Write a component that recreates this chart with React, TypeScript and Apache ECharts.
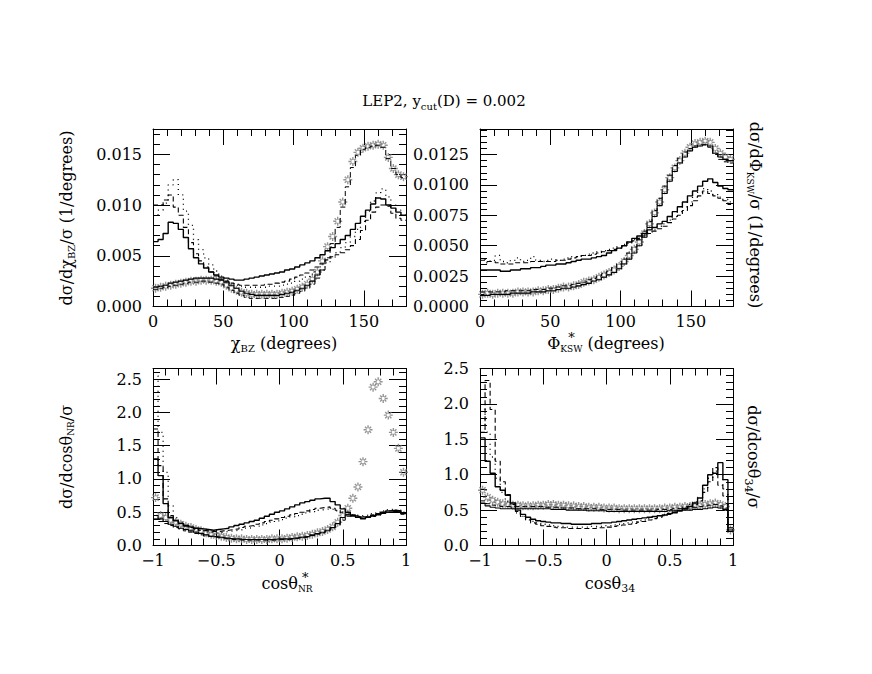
import React, { useEffect, useRef } from 'react';
import * as echarts from 'echarts';

// ---------- data (50 bins per panel) ----------
const N_BINS = 50;
const DEG_RANGE = [0, 180];
const COS_RANGE = [-1, 1];

// Top-left: chi_BZ
const TL_A = [0.0064, 0.0066, 0.0072, 0.0083, 0.0082, 0.0076, 0.0068, 0.0057, 0.0048, 0.0042,
  0.0038, 0.0034, 0.0031, 0.0029, 0.0028, 0.0027, 0.0026, 0.0026, 0.0027, 0.0028,
  0.0029, 0.0030, 0.0031, 0.0032, 0.0033, 0.0034, 0.0036, 0.0037, 0.0039, 0.0041,
  0.0043, 0.0045, 0.0048, 0.0051, 0.0055, 0.0058, 0.0062, 0.0066, 0.0070, 0.0076,
  0.0082, 0.0089, 0.0095, 0.0101, 0.0107, 0.0106, 0.0100, 0.0097, 0.0093, 0.0090];
const TL_B = [0.0100, 0.0100, 0.0105, 0.0110, 0.0098, 0.0090, 0.0078, 0.0063, 0.0052, 0.0045,
  0.0039, 0.0034, 0.0030, 0.0027, 0.0025, 0.0023, 0.0022, 0.0021, 0.0021, 0.0021,
  0.0021, 0.0021, 0.0022, 0.0022, 0.0023, 0.0024, 0.0025, 0.0027, 0.0029, 0.0031,
  0.0033, 0.0036, 0.0039, 0.0042, 0.0046, 0.0049, 0.0051, 0.0053, 0.0056, 0.0060,
  0.0066, 0.0075, 0.0085, 0.0093, 0.0098, 0.0100, 0.0099, 0.0092, 0.0087, 0.0085];
const TL_C = [0.0090, 0.0095, 0.0102, 0.0120, 0.0125, 0.0110, 0.0094, 0.0080, 0.0066, 0.0056,
  0.0048, 0.0041, 0.0035, 0.0030, 0.0026, 0.0023, 0.0021, 0.0020, 0.0019, 0.0019,
  0.0019, 0.0019, 0.0019, 0.0020, 0.0020, 0.0021, 0.0022, 0.0023, 0.0025, 0.0027,
  0.0029, 0.0032, 0.0035, 0.0039, 0.0043, 0.0048, 0.0053, 0.0058, 0.0063, 0.0069,
  0.0076, 0.0084, 0.0094, 0.0104, 0.0112, 0.0116, 0.0108, 0.0100, 0.0095, 0.0090];
const TL_D = [0.0019, 0.0020, 0.0021, 0.0023, 0.0024, 0.0025, 0.0026, 0.0027, 0.0028, 0.0028,
  0.0028, 0.0028, 0.0027, 0.0026, 0.0024, 0.0021, 0.0018, 0.0015, 0.0013, 0.0012,
  0.0011, 0.0011, 0.0011, 0.0011, 0.0011, 0.0012, 0.0013, 0.0014, 0.0016, 0.0018,
  0.0021, 0.0025, 0.0031, 0.0036];
const TL_E = [0.0017, 0.0018, 0.0019, 0.0020, 0.0021, 0.0022, 0.0023, 0.0024, 0.0024, 0.0025,
  0.0025, 0.0024, 0.0023, 0.0022, 0.0019, 0.0016, 0.0013, 0.0011, 0.0009, 0.0008,
  0.0008, 0.0008, 0.0008, 0.0008, 0.0008, 0.0009, 0.0010, 0.0011, 0.0013, 0.0015,
  0.0018, 0.0022, 0.0028, 0.0036, 0.0048, 0.0062, 0.0078, 0.0098, 0.0118, 0.0137,
  0.0149, 0.0155, 0.0157, 0.0158, 0.0159, 0.0157, 0.0146, 0.0136, 0.0130, 0.0127];
const TL_F = [0.0018, 0.0019, 0.0020, 0.0021, 0.0022, 0.0023, 0.0024, 0.0025, 0.0025, 0.0026,
  0.0026, 0.0026, 0.0025, 0.0024, 0.0021, 0.0018, 0.0016, 0.0014, 0.0013, 0.0012,
  0.0012, 0.0012, 0.0012, 0.0012, 0.0012, 0.0013, 0.0014, 0.0015, 0.0017, 0.0019,
  0.0022, 0.0027, 0.0034, 0.0045, 0.0059, 0.0069, 0.0084, 0.0103, 0.0125, 0.0143,
  0.0152, 0.0156, 0.0158, 0.0159, 0.0160, 0.0159, 0.0147, 0.0136, 0.0130, 0.0128];

// Top-right: Phi*_KSW
const TR_A = [0.0030, 0.0030, 0.0030, 0.0030, 0.0029, 0.0029, 0.0030, 0.0030, 0.0031, 0.0031,
  0.0032, 0.0032, 0.0033, 0.0034, 0.0034, 0.0035, 0.0035, 0.0036, 0.0037, 0.0038,
  0.0039, 0.0039, 0.0040, 0.0041, 0.0042, 0.0044, 0.0046, 0.0048, 0.0050, 0.0053,
  0.0056, 0.0058, 0.0060, 0.0063, 0.0065, 0.0068, 0.0070, 0.0074, 0.0078, 0.0082,
  0.0086, 0.0091, 0.0095, 0.0099, 0.0103, 0.0105, 0.0102, 0.0099, 0.0097, 0.0096];
const TR_B = [0.0038, 0.0037, 0.0037, 0.0036, 0.0035, 0.0035, 0.0035, 0.0036, 0.0036, 0.0036,
  0.0037, 0.0037, 0.0037, 0.0037, 0.0037, 0.0038, 0.0038, 0.0039, 0.0040, 0.0041,
  0.0042, 0.0042, 0.0043, 0.0044, 0.0045, 0.0046, 0.0047, 0.0048, 0.0050, 0.0052,
  0.0054, 0.0056, 0.0058, 0.0060, 0.0062, 0.0064, 0.0066, 0.0069, 0.0072, 0.0075,
  0.0079, 0.0083, 0.0087, 0.0091, 0.0095, 0.0093, 0.0091, 0.0089, 0.0087, 0.0084];
const TR_C = [0.0039, 0.0036, 0.0038, 0.0042, 0.0037, 0.0036, 0.0038, 0.0040, 0.0037, 0.0038,
  0.0041, 0.0038, 0.0037, 0.0038, 0.0039, 0.0038, 0.0039, 0.0040, 0.0041, 0.0041,
  0.0042, 0.0043, 0.0044, 0.0045, 0.0046, 0.0047, 0.0048, 0.0049, 0.0051, 0.0053,
  0.0055, 0.0057, 0.0059, 0.0061, 0.0063, 0.0066, 0.0068, 0.0071, 0.0074, 0.0078,
  0.0082, 0.0086, 0.0090, 0.0094, 0.0097, 0.0095, 0.0092, 0.0090, 0.0088, 0.0086];
const TR_D = [0.0009, 0.0009, 0.0010, 0.0010, 0.0010, 0.0010, 0.0011, 0.0011, 0.0011, 0.0011,
  0.0012, 0.0012, 0.0012, 0.0013, 0.0013, 0.0014, 0.0015, 0.0015, 0.0016, 0.0017,
  0.0018, 0.0019, 0.0021, 0.0022, 0.0024, 0.0026, 0.0028, 0.0031, 0.0035, 0.0039,
  0.0044, 0.0050, 0.0057, 0.0065, 0.0074, 0.0083, 0.0093, 0.0103, 0.0111, 0.0118,
  0.0123, 0.0128, 0.0131, 0.0132, 0.0133, 0.0132, 0.0126, 0.0123, 0.0121, 0.0120];
const TR_E = [0.0012, 0.0012, 0.0012, 0.0012, 0.0012, 0.0013, 0.0013, 0.0013, 0.0013, 0.0013,
  0.0014, 0.0014, 0.0014, 0.0015, 0.0015, 0.0016, 0.0017, 0.0017, 0.0018, 0.0019,
  0.0020, 0.0022, 0.0023, 0.0025, 0.0027, 0.0029, 0.0032, 0.0035, 0.0039, 0.0044,
  0.0049, 0.0055, 0.0062, 0.0070, 0.0079, 0.0089, 0.0099, 0.0108, 0.0116, 0.0122,
  0.0127, 0.0130, 0.0132, 0.0133, 0.0133, 0.0131, 0.0125, 0.0121, 0.0119, 0.0118];
const TR_F = [0.0010, 0.0011, 0.0010, 0.0011, 0.0011, 0.0011, 0.0011, 0.0012, 0.0012, 0.0012,
  0.0012, 0.0013, 0.0013, 0.0014, 0.0014, 0.0015, 0.0016, 0.0016, 0.0017, 0.0018,
  0.0020, 0.0021, 0.0022, 0.0024, 0.0026, 0.0028, 0.0030, 0.0033, 0.0037, 0.0042,
  0.0047, 0.0053, 0.0060, 0.0068, 0.0077, 0.0086, 0.0096, 0.0106, 0.0114, 0.0120,
  0.0126, 0.0131, 0.0134, 0.0135, 0.0136, 0.0135, 0.0130, 0.0126, 0.0123, 0.0121];

// Bottom-left: cos theta*_NR
const BL_A = [1.30, 1.05, 0.63, 0.42, 0.37, 0.33, 0.30, 0.28, 0.26, 0.25,
  0.24, 0.23, 0.24, 0.25, 0.26, 0.28, 0.30, 0.32, 0.34, 0.36,
  0.38, 0.41, 0.44, 0.47, 0.50, 0.52, 0.55, 0.58, 0.61, 0.64,
  0.66, 0.68, 0.70, 0.71, 0.71, 0.66, 0.61, 0.55, 0.50, 0.46,
  0.43, 0.41, 0.43, 0.45, 0.47, 0.50, 0.52, 0.53, 0.52, 0.48];
const BL_B = [1.75, 1.20, 0.70, 0.45, 0.38, 0.33, 0.29, 0.27, 0.25, 0.23,
  0.22, 0.21, 0.21, 0.22, 0.23, 0.24, 0.25, 0.27, 0.29, 0.30,
  0.32, 0.34, 0.36, 0.38, 0.40, 0.42, 0.44, 0.46, 0.48, 0.50,
  0.52, 0.54, 0.56, 0.57, 0.58, 0.56, 0.53, 0.50, 0.47, 0.45,
  0.43, 0.42, 0.43, 0.44, 0.46, 0.48, 0.50, 0.51, 0.50, 0.47];
const BL_C = [2.55, 1.70, 1.10, 0.60, 0.42, 0.35, 0.30, 0.27, 0.24, 0.22,
  0.20, 0.19, 0.19, 0.20, 0.21, 0.22, 0.23, 0.24, 0.26, 0.27,
  0.29, 0.31, 0.33, 0.35, 0.37, 0.39, 0.41, 0.43, 0.45, 0.47,
  0.49, 0.51, 0.53, 0.54, 0.55, 0.54, 0.52, 0.50, 0.48, 0.46,
  0.45, 0.45, 0.46, 0.48, 0.50, 0.52, 0.54, 0.55, 0.53, 0.50];
const BL_D = [0.45, 0.40, 0.36, 0.32, 0.29, 0.26, 0.24, 0.22, 0.20, 0.18,
  0.16, 0.14, 0.13, 0.12, 0.11, 0.10, 0.10, 0.09, 0.09, 0.09,
  0.09, 0.09, 0.09, 0.09, 0.10, 0.10, 0.10, 0.11, 0.12, 0.13,
  0.14, 0.16, 0.18, 0.20, 0.23, 0.27, 0.33, 0.42, 0.46, 0.44,
  0.42, 0.40, 0.42, 0.44, 0.46, 0.48, 0.50, 0.51, 0.50, 0.48];
const BL_E = [0.40, 0.36, 0.33, 0.30, 0.27, 0.25, 0.22, 0.20, 0.18, 0.16,
  0.14, 0.13, 0.12, 0.11, 0.10, 0.09, 0.09, 0.08, 0.08, 0.08,
  0.08, 0.08, 0.08, 0.08, 0.09, 0.09, 0.09, 0.10, 0.11, 0.12,
  0.13, 0.15, 0.17, 0.19, 0.22, 0.26, 0.31, 0.38, 0.44, 0.45,
  0.44, 0.43, 0.44, 0.46, 0.48, 0.50, 0.52, 0.52, 0.51, 0.49];
const BL_F = [0.72, 0.45, 0.42, 0.38, 0.35, 0.32, 0.29, 0.27, 0.24, 0.22,
  0.19, 0.17, 0.15, 0.14, 0.12, 0.11, 0.10, 0.10, 0.09, 0.09,
  0.09, 0.09, 0.09, 0.10, 0.10, 0.10, 0.11, 0.12, 0.13, 0.14,
  0.15, 0.17, 0.19, 0.21, 0.24, 0.28, 0.35, 0.45, 0.56, 0.71,
  0.88, 1.26, 1.74, 2.38, 2.46, 2.21, 1.96, 1.70, 1.46, 1.10];

// Bottom-right: cos theta_34
const BR_A = [1.52, 1.19, 1.02, 0.83, 0.78, 0.71, 0.60, 0.50, 0.44, 0.40,
  0.37, 0.35, 0.34, 0.33, 0.32, 0.32, 0.31, 0.31, 0.30, 0.30,
  0.30, 0.30, 0.31, 0.31, 0.32, 0.32, 0.33, 0.34, 0.35, 0.36,
  0.37, 0.38, 0.39, 0.40, 0.41, 0.42, 0.43, 0.45, 0.47, 0.49,
  0.52, 0.55, 0.60, 0.67, 0.85, 1.00, 1.02, 1.17, 0.93, 0.20];
const BR_B = [1.60, 2.33, 1.92, 1.19, 0.90, 0.72, 0.58, 0.48, 0.41, 0.36,
  0.32, 0.30, 0.28, 0.27, 0.26, 0.25, 0.25, 0.24, 0.24, 0.24,
  0.24, 0.24, 0.24, 0.25, 0.25, 0.26, 0.27, 0.28, 0.29, 0.30,
  0.31, 0.33, 0.34, 0.36, 0.38, 0.40, 0.42, 0.44, 0.46, 0.49,
  0.52, 0.55, 0.58, 0.63, 0.75, 0.90, 1.10, 0.85, 0.70, 0.20];
const BR_C = [2.00, 1.60, 1.25, 0.95, 0.75, 0.62, 0.53, 0.46, 0.41, 0.37,
  0.34, 0.32, 0.30, 0.29, 0.28, 0.27, 0.27, 0.26, 0.26, 0.26,
  0.26, 0.26, 0.27, 0.27, 0.28, 0.28, 0.29, 0.30, 0.31, 0.32,
  0.33, 0.35, 0.36, 0.38, 0.40, 0.42, 0.44, 0.46, 0.49, 0.52,
  0.55, 0.58, 0.62, 0.68, 0.80, 0.95, 1.05, 1.00, 0.80, 0.22];
const BR_D = [0.60, 0.56, 0.54, 0.53, 0.52, 0.52, 0.52, 0.52, 0.52, 0.52,
  0.52, 0.52, 0.52, 0.52, 0.51, 0.51, 0.51, 0.50, 0.50, 0.50,
  0.50, 0.49, 0.49, 0.49, 0.49, 0.48, 0.48, 0.48, 0.48, 0.48,
  0.48, 0.48, 0.48, 0.48, 0.48, 0.48, 0.48, 0.49, 0.49, 0.49,
  0.50, 0.50, 0.51, 0.51, 0.52, 0.53, 0.54, 0.53, 0.51, 0.25];
const BR_E = [0.63, 0.59, 0.57, 0.56, 0.55, 0.55, 0.55, 0.55, 0.55, 0.55,
  0.55, 0.55, 0.55, 0.54, 0.54, 0.54, 0.53, 0.53, 0.53, 0.52,
  0.52, 0.52, 0.52, 0.51, 0.51, 0.51, 0.51, 0.51, 0.50, 0.50,
  0.50, 0.50, 0.50, 0.50, 0.50, 0.51, 0.51, 0.51, 0.52, 0.52,
  0.53, 0.53, 0.54, 0.55, 0.56, 0.57, 0.58, 0.56, 0.53, 0.22];
const BR_F = [0.78, 0.68, 0.64, 0.61, 0.59, 0.58, 0.57, 0.57, 0.56, 0.56,
  0.56, 0.57, 0.57, 0.58, 0.58, 0.57, 0.57, 0.56, 0.56, 0.55,
  0.55, 0.54, 0.54, 0.54, 0.53, 0.53, 0.53, 0.52, 0.52, 0.52,
  0.52, 0.52, 0.52, 0.52, 0.52, 0.52, 0.53, 0.53, 0.54, 0.54,
  0.55, 0.55, 0.56, 0.57, 0.58, 0.59, 0.60, 0.58, 0.55, 0.22];

// axis ranges / ticks
const Y_TL = { max: 0.0175, interval: 0.005, dec: 3 };
const Y_TR = { max: 0.0146, interval: 0.0025, dec: 4 };
const Y_BL = { max: 2.66, interval: 0.5, dec: 1 };
const Y_BR = { max: 2.5, interval: 0.5, dec: 1 };

const FAMILY = '"DejaVu Serif", serif';
const STAR = 'path://M5 0L5 3.4M5 6.6L5 10M0 5L3.4 5M6.6 5L10 5M1.6 1.6L3.7 3.7M6.3 6.3L8.4 8.4M1.6 8.4L3.7 6.3M6.3 3.7L8.4 1.6';

function stepData(vals: number[], lo: number, hi: number) {
  const w = (hi - lo) / N_BINS;
  const d: number[][] = vals.map((v, i) => [lo + i * w, v]);
  d.push([lo + vals.length * w, vals[vals.length - 1]]);
  return d;
}
function centerData(vals: number[], lo: number, hi: number) {
  const w = (hi - lo) / N_BINS;
  return vals.map((v, i) => [lo + (i + 0.5) * w, v]);
}

let measureCtx: CanvasRenderingContext2D | null = null;
function tw(t: string, size: number) {
  if (!measureCtx) measureCtx = document.createElement('canvas').getContext('2d');
  measureCtx!.font = `${size}px ${FAMILY}`;
  return measureCtx!.measureText(t).width;
}
type Seg = { t: string; s: number; dy: number; over?: boolean };
function label(segs: Seg[], cx: number, cy: number, rot: number) {
  let total = 0;
  segs.forEach((sg) => { if (!sg.over) total += tw(sg.t, sg.s); });
  let x = -total / 2;
  const children: any[] = [];
  segs.forEach((sg, i) => {
    const w = tw(sg.t, sg.s);
    let px = x;
    if (sg.over) {
      const nx = segs[i + 1];
      const nw = nx ? tw(nx.t, nx.s) : w;
      px = x + (nw - w) / 2;
    }
    children.push({
      type: 'text', x: px, y: sg.dy,
      style: {
        text: sg.t, fontSize: sg.s, fontFamily: FAMILY, fill: '#000',
        align: 'left', verticalAlign: 'middle', textAlign: 'left', textVerticalAlign: 'middle',
      },
    });
    if (!sg.over) x += w;
  });
  return { type: 'group', x: cx, y: cy, rotation: rot, children };
}

const M = 16, S = 11;

export default function App() {
  const ref = useRef<HTMLDivElement>(null);
  useEffect(() => {
    document.body.style.margin = '0';
    const chart = echarts.init(ref.current!, null, { renderer: 'svg' });

    const grids = [
      { left: 153, top: 129, width: 253, height: 177.5 },
      { left: 480, top: 129, width: 253, height: 177.5 },
      { left: 153, top: 368.5, width: 253, height: 177 },
      { left: 480, top: 368.5, width: 253, height: 177 },
    ];
    const degFmt = (v: number) => String(Math.round(v));
    const cosFmt = (v: number) => (v < 0 ? '\u2212' + String(Math.abs(v)) : String(v));
    const panelX = [
      { r: DEG_RANGE, interval: 50, fmt: degFmt, showMax: false },
      { r: DEG_RANGE, interval: 50, fmt: degFmt, showMax: false },
      { r: COS_RANGE, interval: 0.5, fmt: cosFmt, showMax: true },
      { r: COS_RANGE, interval: 0.5, fmt: cosFmt, showMax: true },
    ];
    const panelY = [Y_TL, Y_TR, Y_BL, Y_BR];

    const lineCommon = {
      axisLine: { show: true, onZero: false, lineStyle: { color: '#000', width: 1 } },
      axisTick: { show: true, inside: true, length: 16, lineStyle: { color: '#000', width: 1 } },
      minorTick: { show: true, splitNumber: 5, length: 7, lineStyle: { color: '#000', width: 1 } },
      splitLine: { show: false },
      minorSplitLine: { show: false },
    };
    const xAxis: any[] = [];
    const yAxis: any[] = [];
    panelX.forEach((p, gi) => {
      const base = { type: 'value', gridIndex: gi, min: p.r[0], max: p.r[1], interval: p.interval, ...lineCommon };
      xAxis.push({
        ...base, position: 'bottom',
        axisLabel: { show: true, margin: 7, fontFamily: FAMILY, fontSize: 16, color: '#000', formatter: p.fmt, showMaxLabel: p.showMax, showMinLabel: true },
      });
      xAxis.push({ ...base, position: 'top', axisLabel: { show: false } });
    });
    panelY.forEach((p, gi) => {
      const base = { type: 'value', gridIndex: gi, min: 0, max: p.max, interval: p.interval, ...lineCommon, axisTick: { ...lineCommon.axisTick, length: 17 } };
      yAxis.push({
        ...base, position: 'left',
        axisLabel: {
          show: true, margin: 11, fontFamily: FAMILY, fontSize: 16, color: '#000',
          formatter: (v: number) => v.toFixed(p.dec),
          showMaxLabel: Math.abs(p.max / p.interval - Math.round(p.max / p.interval)) < 1e-6,
          showMinLabel: true,
        },
      });
      yAxis.push({ ...base, position: 'right', axisLabel: { show: false } });
    });

    const sets = [
      [TL_A, TL_B, TL_C, TL_D, TL_E, TL_F],
      [TR_A, TR_B, TR_C, TR_D, TR_E, TR_F],
      [BL_A, BL_B, BL_C, BL_D, BL_E, BL_F],
      [BR_A, BR_B, BR_C, BR_D, BR_E, BR_F],
    ];
    const series: any[] = [];
    sets.forEach((s, gi) => {
      const [lo, hi] = panelX[gi].r;
      const ax = { xAxisIndex: gi * 2, yAxisIndex: gi * 2 };
      series.push({
        type: 'scatter', ...ax, data: centerData(s[5], lo, hi), symbol: STAR, symbolSize: 9,
        itemStyle: { color: 'transparent', borderColor: '#7a7a7a', borderWidth: 1.4 }, z: 1,
      });
      const ln = (vals: number[], width: number, type: any, color = '#000') => ({
        type: 'line', ...ax, step: 'end', showSymbol: false, symbol: 'none', data: stepData(vals, lo, hi),
        lineStyle: { color, width, type }, z: 2,
      });
      series.push(ln(s[0], 1.4, 'solid'));
      series.push(ln(s[1], 1.1, [5, 3]));
      series.push(ln(s[2], 1.3, [1, 4]));
      series.push(ln(s[3], 1.1, 'solid'));
      series.push(ln(s[4], 1.0, [5, 3]));
    });

    const graphic = [
      label([{ t: 'LEP2, y', s: 15, dy: 0 }, { t: 'cut', s: 10, dy: 5 }, { t: '(D) = 0.002', s: 15, dy: 0 }], 444, 101, 0),
      label([{ t: 'χ', s: M, dy: 0 }, { t: 'BZ', s: S - 1, dy: 5 }, { t: ' (degrees)', s: M, dy: 0 }], 284, 343, 0),
      label([{ t: 'Φ', s: M, dy: 0 }, { t: '*', s: 13, dy: -6, over: true }, { t: 'KSW', s: S - 2, dy: 6 }, { t: ' (degrees)', s: M, dy: 0 }], 606, 343, 0),
      label([{ t: 'cosθ', s: M, dy: 0 }, { t: '*', s: 13, dy: -6, over: true }, { t: 'NR', s: S - 2, dy: 6 }], 287, 583, 0),
      label([{ t: 'cosθ', s: M, dy: 0 }, { t: '34', s: S, dy: 5 }], 610, 583, 0),
      label([{ t: 'dσ/dχ', s: M, dy: 0 }, { t: 'BZ', s: S - 1, dy: 5 }, { t: '/σ (1/degrees)', s: M, dy: 0 }], 66, 218, Math.PI / 2),
      label([{ t: 'dσ/dcosθ', s: M, dy: 0 }, { t: 'NR', s: S - 2, dy: 5 }, { t: '/σ', s: M, dy: 0 }], 66, 457, Math.PI / 2),
      label([{ t: 'dσ/dΦ', s: M, dy: 0 }, { t: 'KSW', s: S - 2, dy: 5 }, { t: '/σ (1/degrees)', s: M, dy: 0 }], 755, 215, -Math.PI / 2),
      label([{ t: 'dσ/dcosθ', s: M, dy: 0 }, { t: '34', s: S, dy: 5 }, { t: '/σ', s: M, dy: 0 }], 753, 457, -Math.PI / 2),
    ];

    chart.setOption({
      animation: false,
      backgroundColor: '#fff',
      grid: grids,
      xAxis,
      yAxis,
      series,
      graphic,
    });
    return () => chart.dispose();
  }, []);
  return <div ref={ref} style={{ width: 872, height: 674 }} />;
}
